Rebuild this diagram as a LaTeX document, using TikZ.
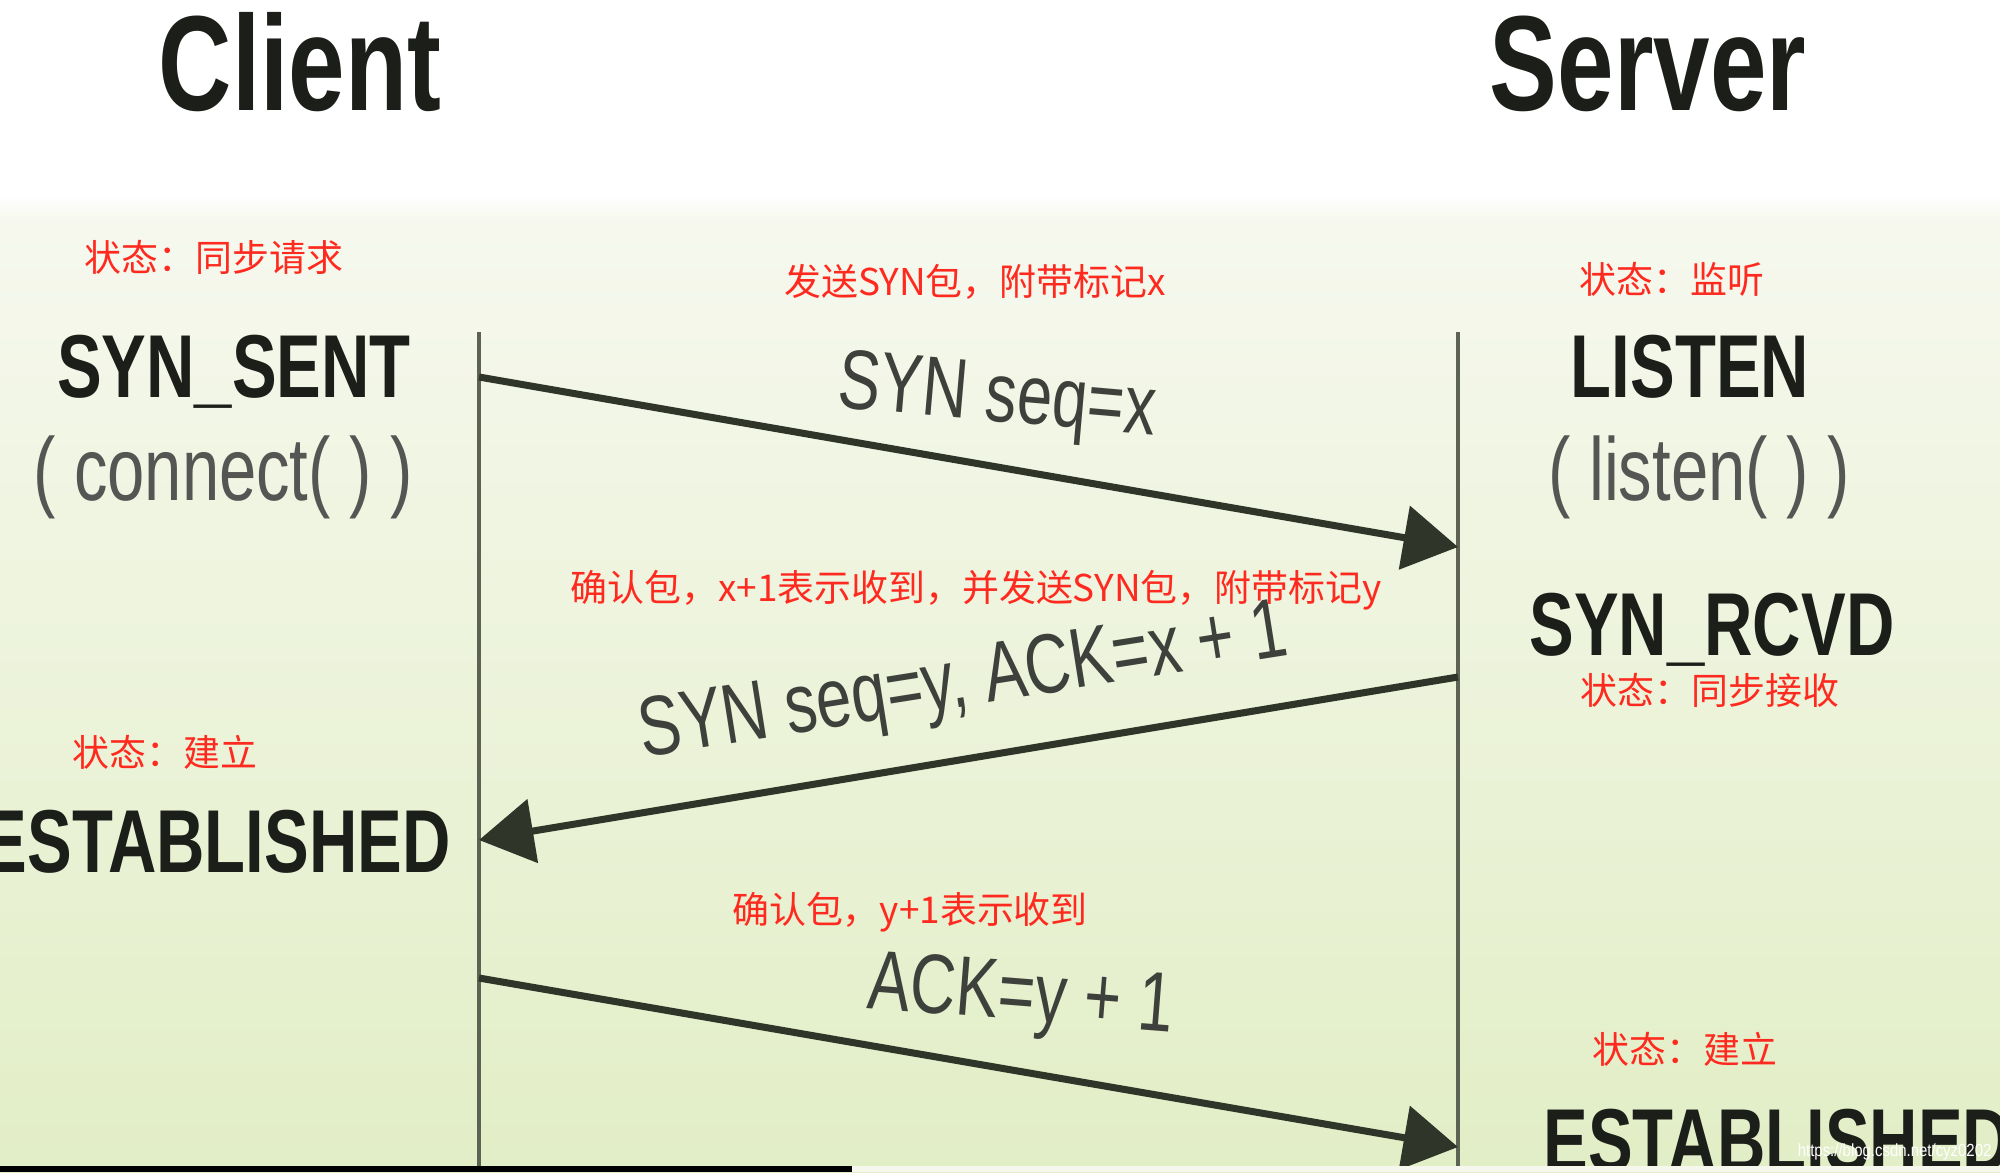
\documentclass[tikz,border=0pt]{standalone}
\usepackage{fontspec}
\setmainfont{Liberation Sans}
\newfontfamily\cjk{Noto Sans CJK SC}
\usepackage{xcolor}
\usepackage{tikz}
\usetikzlibrary{arrows.meta}

\definecolor{bgtop}{HTML}{F6F8EE}
\definecolor{bgbot}{HTML}{E2EEC6}
\definecolor{lifegray}{HTML}{5C6353}
\definecolor{msgdark}{HTML}{30352A}
\definecolor{txtdark}{HTML}{1C1E19}
\definecolor{notered}{HTML}{FF2A1F}

\begin{document}
\begin{tikzpicture}[x=0.01cm, y=-0.01cm,
    >={Triangle[length=15.5pt, width=18pt]},
    title/.style={font=\fontsize{38.5}{40}\selectfont\bfseries, text=txtdark, xscale=0.75, inner sep=0pt, anchor=base},
    state/.style={font=\fontsize{25.4}{28}\selectfont\bfseries, text=txtdark, xscale=0.75, inner sep=0pt, anchor=base},
    call/.style={font=\fontsize{25.4}{28}\selectfont, text=txtdark!75, xscale=0.75, inner sep=0pt, anchor=base},
    msglabel/.style={font=\fontsize{24}{28}\selectfont, text=txtdark!85, xscale=0.75, inner sep=0pt, anchor=base},
    note/.style={font=\cjk\fontsize{10.5}{12}\selectfont, text=notered, inner sep=0pt},
    life/.style={lifegray, line width=1.2pt},
    msg/.style={->, msgdark, line width=2pt}]
    \useasboundingbox (0,0) rectangle (2000,1172);
    % 背景
    \fill[white] (0,0) rectangle (2000,195);
    \shade[top color=white, bottom color=bgtop] (0,195) rectangle (2000,220);
    \shade[top color=bgtop, bottom color=bgbot] (0,220) rectangle (2000,1172);

    % 标题
    \node[title] (client) at (300,110) {Client};
    \node[title] (server) at (1648,110) {Server};

    % 生命线
    \coordinate (ctop) at (479,332);
    \coordinate (cbot) at (479,1172);
    \coordinate (stop) at (1458,332);
    \coordinate (sbot) at (1458,1172);
    \draw[life] (ctop) -- (cbot);
    \draw[life] (stop) -- (sbot);

    % 状态
    \node[state] (synsent) at (234,397) {SYN\_SENT};
    \node[call] (connect) at (223,500) {( connect( ) )};
    \node[state] (listen) at (1690,397) {LISTEN};
    \node[call] (listencall) at (1699,500) {( listen( ) )};
    \node[state] (synrcvd) at (1712,655) {SYN\_RCVD};
    \node[state, anchor=base east] (estc) at (451,872) {ESTABLISHED};
    \node[state, anchor=base west] (ests) at (1543,1171) {ESTABLISHED};

    % 报文
    \coordinate (c1) at (479,377);
    \coordinate (s1) at (1458,547);
    \coordinate (s2) at (1458,677);
    \coordinate (c2) at (479,840);
    \coordinate (c3) at (479,978);
    \coordinate (s3) at (1458,1147);
    \draw[msg] (c1) -- (s1);
    \draw[msg] (s2) -- (c2);
    \draw[msg] (c3) -- (s3);
    \node[rotate=-5, msglabel] (syn) at (995,421) {SYN seq=x};
    \node[rotate=9, msglabel] (synack) at (967,706) {SYN seq=y, ACK=x + 1};
    \node[rotate=-4.5, msglabel] (ack) at (1019,1020) {ACK=y + 1};

    % 中文注释
    \node[note] (n1) at (214,257) {状态：同步请求};
    \node[note] (n2) at (975,282) {发送SYN包，附带标记x};
    \node[note] (n3) at (1672,279) {状态：监听};
    \node[note] (n4) at (976,590) {确认包，x+1表示收到，并发送SYN包，附带标记y};
    \node[note] (n5) at (1710,690) {状态：同步接收};
    \node[note] (n6) at (165,752) {状态：建立};
    \node[note] (n7) at (910,912) {确认包，y+1表示收到};
    \node[note] (n8) at (1685,1049) {状态：建立};

    % 水印和底边
    \node[font=\fontsize{5}{6}\selectfont, text=white, xscale=0.85, inner sep=0pt, anchor=east] (mark) at (1992,1152) {https://blog.csdn.net/cyz0202};
    \fill[black] (0,1166) rectangle (852,1172);
    \fill[bgtop] (852,1166) rectangle (2000,1172);
\end{tikzpicture}
\end{document}
